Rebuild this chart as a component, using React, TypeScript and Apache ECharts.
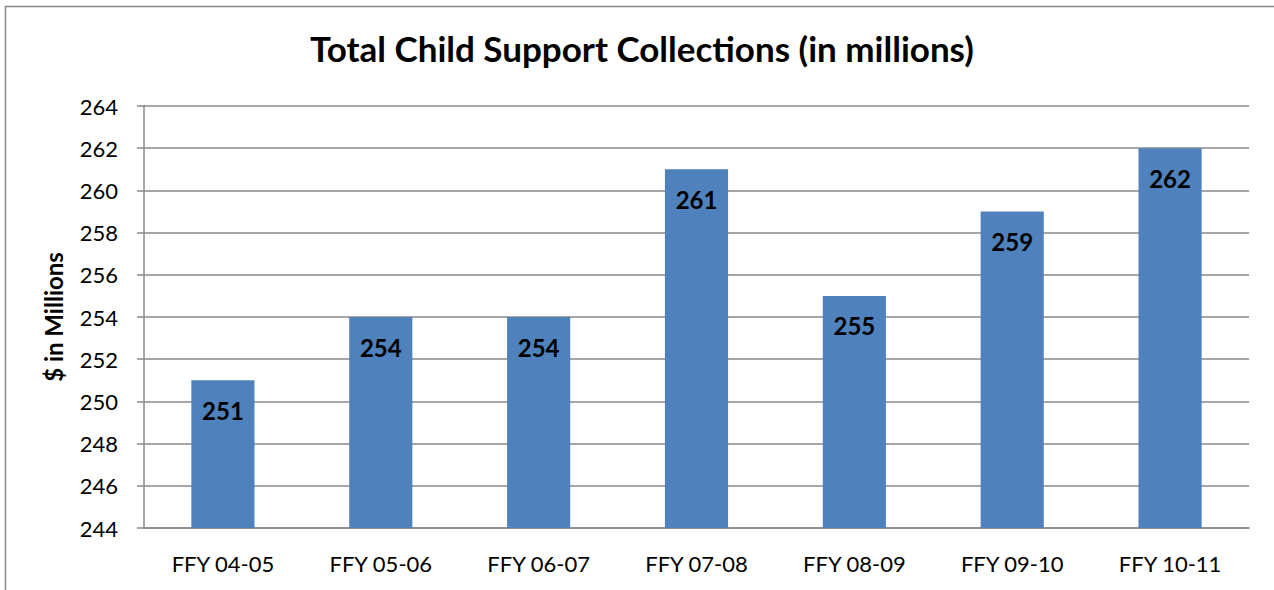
import React, { useEffect, useRef } from "react";
import * as echarts from "echarts";

const categories = ["FFY 04-05", "FFY 05-06", "FFY 06-07", "FFY 07-08", "FFY 08-09", "FFY 09-10", "FFY 10-11"];
const collections = [251, 254, 254, 261, 255, 259, 262];
const yMin = 244;
const yMax = 264;
const yStep = 2;

const FONT = "Lato, 'Open Sans', sans-serif";

export default function App() {
  const ref = useRef<HTMLDivElement>(null);
  useEffect(() => {
    if (!ref.current) return;
    const chart = echarts.init(ref.current, null, { renderer: "svg" });
    chart.setOption({
      animation: false,
      backgroundColor: "#ffffff",
      textStyle: { fontFamily: FONT },
      title: {
        text: "Total Child Support Collections (in millions)",
        left: 310,
        top: 30,
        padding: 0,
        textStyle: { fontFamily: FONT, fontSize: 35, fontWeight: "bold", color: "#000" },
      },
      graphic: [
        {
          type: "rect",
          shape: { x: 5.5, y: 6.5, width: 1400, height: 800 },
          style: { fill: "none", stroke: "#888888", lineWidth: 1.5 },
          silent: true,
        },
      ],
      grid: { left: 144, top: 106, right: 25, bottom: 62, containLabel: false },
      xAxis: {
        type: "category",
        data: categories,
        axisLine: { show: true, lineStyle: { color: "#888888", width: 1.5 } },
        axisTick: { show: false },
        axisLabel: { color: "#000", fontSize: 22, fontFamily: FONT, margin: 24 },
      },
      yAxis: {
        type: "value",
        min: yMin,
        max: yMax,
        interval: yStep,
        name: "$ in Millions",
        nameLocation: "middle",
        nameGap: 79,
        nameRotate: 90,
        nameTextStyle: { fontFamily: FONT, fontSize: 24, fontWeight: "bold", color: "#000" },
        axisLine: { show: true, lineStyle: { color: "#888888", width: 1.5 } },
        axisTick: { show: true, length: 7, lineStyle: { color: "#888888", width: 1.5 } },
        axisLabel: { color: "#000", fontSize: 22, fontFamily: FONT, margin: 26 },
        splitLine: { show: true, lineStyle: { color: "#888888", width: 1.5 } },
      },
      series: [
        {
          type: "bar",
          data: collections,
          barWidth: "40%",
          itemStyle: { color: "#4F81BD" },
          label: {
            show: true,
            position: "insideTop",
            distance: 18,
            color: "#000",
            fontSize: 24,
            fontWeight: "bold",
            fontFamily: FONT,
          },
        },
      ],
    });
    return () => chart.dispose();
  }, []);
  return <div ref={ref} style={{ position: "absolute", left: 0, top: 0, width: 1274, height: 590 }} />;
}
